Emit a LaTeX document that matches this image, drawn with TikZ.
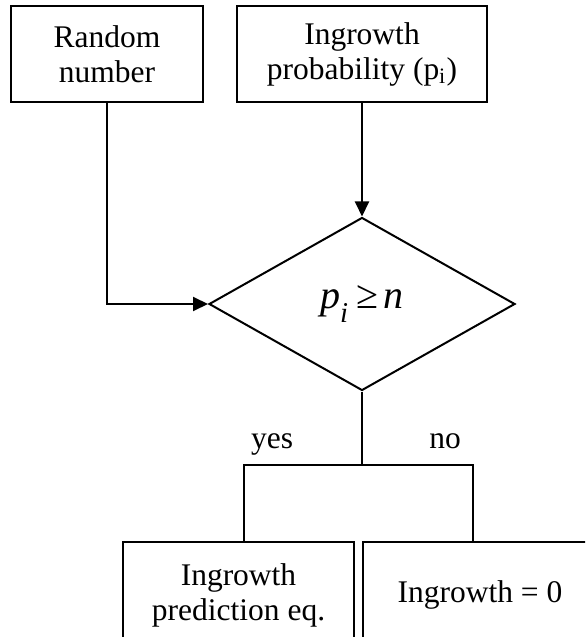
\documentclass[tikz,border=0pt]{standalone}
\usepackage{fontspec}
\setmainfont{Liberation Serif}
\usetikzlibrary{shapes.geometric,arrows.meta}
\begin{document}
\begin{tikzpicture}[x=0.4pt, y=-0.4pt,
    box/.style={draw, line width=0.8pt, align=center, inner sep=0pt, font=\fontsize{12.6}{14}\selectfont},
    test/.style={draw, diamond, line width=0.8pt, inner sep=0pt, minimum width=122.4pt, minimum height=69.2pt},
    answer/.style={anchor=base, inner sep=0pt, font=\fontsize{12.6}{14}\selectfont},
    link/.style={line width=0.8pt},
    arrow/.style={link, -{Triangle[length=6pt, width=5.6pt]}}]
    \clip (0,0) rectangle (585,637);

    \node[box, minimum width=76.8pt, minimum height=38.4pt] (rand) at (107,54) {Random\\number};
    \node[box, minimum width=100pt, minimum height=38.4pt] (prob) at (362,54) {Ingrowth\\probability (p\textsubscript{i})};

    \node[test] (test) at (362,304) {\fontsize{16}{18}\selectfont\itshape p\raisebox{-0.35em}{\fontsize{11.5}{12}\selectfont i}\kern0.2em{\upshape ≥}\kern0.15em n};

    \node[box, minimum width=92.4pt, minimum height=42.4pt] (pred) at (238.5,595) {Ingrowth\\prediction eq.};
    \node[box, minimum width=93.6pt, minimum height=42.4pt] (zero) at (480,595) {Ingrowth = 0};

    \draw[arrow] (prob.south) -- (test.north);
    \draw[arrow] (rand.south) |- (test.west);

    \coordinate (fork) at (362,465);
    \draw[link] (test.south) -- (fork);
    \draw[link] (fork) -| ([xshift=2.2pt]pred.north);
    \draw[link] (fork) -| ([xshift=-2.8pt]zero.north);

    \node[answer] (yes) at (272,448) {yes};
    \node[answer] (no) at (445,448) {no};
\end{tikzpicture}
\end{document}
